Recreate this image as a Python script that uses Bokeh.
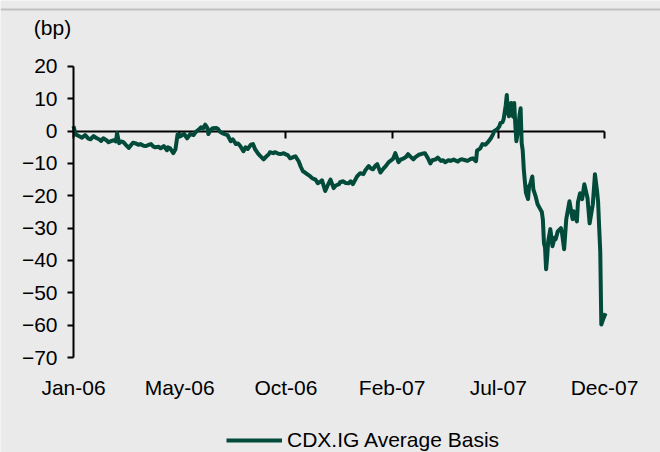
from bokeh.plotting import figure
from bokeh.models import Range1d, LinearAxis, FixedTicker, Label, Legend, LegendItem, Span
from bokeh.embed import file_html
from bokeh.resources import INLINE

# business-day index since 2 Jan 2006
days = [0, 2, 5, 8, 11, 14, 16, 19, 22, 24, 26, 28, 31, 33, 36, 38, 40, 41, 43, 45,
        47, 50, 52, 55, 56, 58, 61, 63, 66, 68, 71, 73, 75, 77, 80, 82, 85, 88, 89, 91,
        94, 96, 98, 101, 104, 107, 110, 113, 115, 118, 120, 122, 124, 126, 127, 129, 131, 134, 136, 138,
        140, 143, 145, 148, 150, 153, 155, 157, 160, 162, 164, 167, 169, 171, 174, 176, 179, 181, 184, 185,
        188, 190, 193, 195, 198, 200, 202, 204, 207, 209, 212, 214, 216, 218, 220, 223, 225, 228, 230, 233,
        234, 237, 239, 242, 245, 247, 250, 251, 254, 256, 259, 261, 263, 266, 267, 270, 273, 275, 278, 280,
        282, 284, 286, 289, 292, 294, 297, 298, 301, 303, 306, 308, 311, 313, 315, 317, 320, 322, 325, 328,
        331, 334, 336, 338, 341, 343, 346, 348, 350, 353, 355, 358, 362, 364, 366, 369, 371, 374, 376, 379,
        380, 383, 385, 388, 390, 393, 395, 396, 399, 401, 402, 404, 405, 407, 408, 409, 410, 411, 412, 413,
        414, 415, 416, 417, 418, 419, 420, 421, 422, 423, 424, 425, 426, 428, 429, 430, 432, 433, 435, 437,
        439, 441, 442, 443, 444, 445, 446, 447, 449, 451, 453, 454, 456, 459, 460, 462, 464, 467, 469, 470,
        471, 474, 475, 477, 479, 481, 484, 486, 489, 491, 493, 494, 495, 496, 497, 499, 501]
basis = [1.5, -1.0, -1.5, -2.0, -1.2, -2.3, -2.5, -1.5, -2.2, -2.5, -3.0, -2.2, -2.8, -3.4, -3.0, -2.8, -3.2, -0.6, -3.7, -3.2,
         -3.4, -4.5, -5.2, -4.0, -3.6, -3.7, -4.2, -4.0, -4.5, -4.6, -4.2, -4.0, -4.7, -5.0, -4.8, -5.3, -4.6, -5.9, -5.0, -5.3,
         -6.8, -5.6, -1.0, -1.5, -0.8, -2.2, -0.9, -1.2, -0.3, 0.5, 1.2, 0.8, 2.0, 1.0, -0.9, 0.3, 0.9, 1.0, 0.7, -0.2,
         -0.6, -1.0, -1.2, -3.1, -2.5, -4.0, -3.8, -4.6, -6.2, -5.0, -5.5, -4.2, -4.0, -5.6, -7.0, -7.7, -8.7, -8.0, -7.1, -6.5,
         -6.8, -6.5, -7.0, -7.1, -6.8, -7.2, -7.5, -8.4, -8.0, -7.8, -9.3, -11.0, -12.4, -12.8, -13.3, -14.0, -14.6, -15.0, -16.1, -15.5,
         -15.2, -18.5, -17.0, -15.0, -17.6, -16.8, -16.4, -15.8, -15.5, -16.0, -16.1, -15.5, -16.4, -14.6, -14.0, -13.0, -13.3, -12.0, -10.8, -11.5,
         -11.8, -10.8, -10.2, -12.8, -11.5, -10.8, -9.5, -9.3, -8.5, -6.8, -9.6, -8.8, -8.4, -8.0, -7.1, -7.8, -8.7, -8.0, -7.3, -7.0,
         -6.8, -8.5, -10.0, -9.0, -8.7, -8.2, -9.2, -9.0, -9.6, -9.0, -9.2, -8.8, -9.4, -8.8, -8.7, -9.0, -9.2, -8.6, -8.4, -9.3,
         -6.0, -5.3, -4.0, -4.2, -3.5, -2.2, -1.0, 0.0, 0.6, 1.5, 2.5, 2.8, 3.7, 8.0, 11.2, 6.0, 4.6, 7.5, 8.7, 5.0,
         4.5, 8.7, 2.0, -3.1, -1.0, 1.5, 5.0, 7.1, -3.7, -6.0, -11.8, -15.5, -19.0, -21.0, -17.0, -16.4, -14.0, -18.0, -20.0, -22.6,
         -23.8, -25.0, -27.5, -34.7, -36.0, -42.7, -39.0, -34.0, -30.3, -35.6, -33.0, -33.4, -31.0, -30.0, -31.6, -36.5, -27.2, -21.7, -25.5, -27.2,
         -24.8, -27.9, -22.0, -19.2, -21.0, -16.4, -20.7, -28.5, -22.6, -13.3, -18.6, -22.0, -30.0, -37.2, -59.8, -57.9, -56.3]

tick_days = [0, 100, 200, 300, 400, 500]
tick_labels = ["Jan-06", "May-06", "Oct-06", "Feb-07", "Jul-07", "Dec-07"]
y_ticks = [20, 10, 0, -10, -20, -30, -40, -50, -60, -70]
series_name = "CDX.IG Average Basis"
unit_label = "(bp)"

FONT = "Liberation Sans"
BG = "#EAEAEA"
GREEN = "#024B3B"

# frame spans the whole canvas; the plotting area is 0..500 days x -70..20 bp
p = figure(width=660, height=452, output_backend="svg", toolbar_location=None,
           x_range=Range1d(-68.74, 552.73), y_range=Range1d(-99.38, 40.41),
           x_axis_type=None, y_axis_type=None,
           min_border_left=0, min_border_right=0, min_border_top=0, min_border_bottom=0,
           background_fill_color=BG, border_fill_color=BG, outline_line_color=None)

# thin rule at the top of the panel
p.add_layout(Span(location=37.6, dimension="width", line_color="#C0C0C0", line_width=2))

yax = LinearAxis(fixed_location=0, bounds=(-70, 20), ticker=FixedTicker(ticks=y_ticks),
                 axis_line_color="black", axis_line_width=2,
                 major_tick_out=6, major_tick_in=0, major_tick_line_width=2,
                 minor_tick_line_color=None, major_label_standoff=10,
                 major_label_text_font=FONT, major_label_text_font_size="21px",
                 major_label_text_color="black")
p.add_layout(yax, "left")

# category axis crosses at 0 bp; its labels sit low, below the plotting area
xax = LinearAxis(fixed_location=0, bounds=(0, 500), ticker=FixedTicker(ticks=tick_days),
                 major_label_overrides={d: l for d, l in zip(tick_days, tick_labels)},
                 axis_line_color="black", axis_line_width=2, major_tick_out=7, major_tick_in=0,
                 major_tick_line_width=2, minor_tick_line_color=None,
                 major_label_standoff=238, major_label_text_font=FONT,
                 major_label_text_font_size="21px", major_label_text_color="black",
                 level="underlay")
p.add_layout(xax, "below")

r = p.line(days, basis, line_color=GREEN, line_width=4, line_join="round")

p.add_layout(Label(x=-19.8, y=32.1, text=unit_label, text_align="center", text_baseline="middle",
                   text_font=FONT, text_font_size="21px", text_color="black"))

legend = Legend(items=[LegendItem(label=series_name, renderers=[r])], location=(226, 0),
                orientation="horizontal", background_fill_alpha=0, border_line_color=None,
                glyph_width=56, label_standoff=5, padding=0, margin=0, spacing=0,
                label_text_font=FONT, label_text_font_size="21px", label_text_color="black")
p.add_layout(legend, "center")

open("out.html", "w").write(file_html(p, INLINE))
